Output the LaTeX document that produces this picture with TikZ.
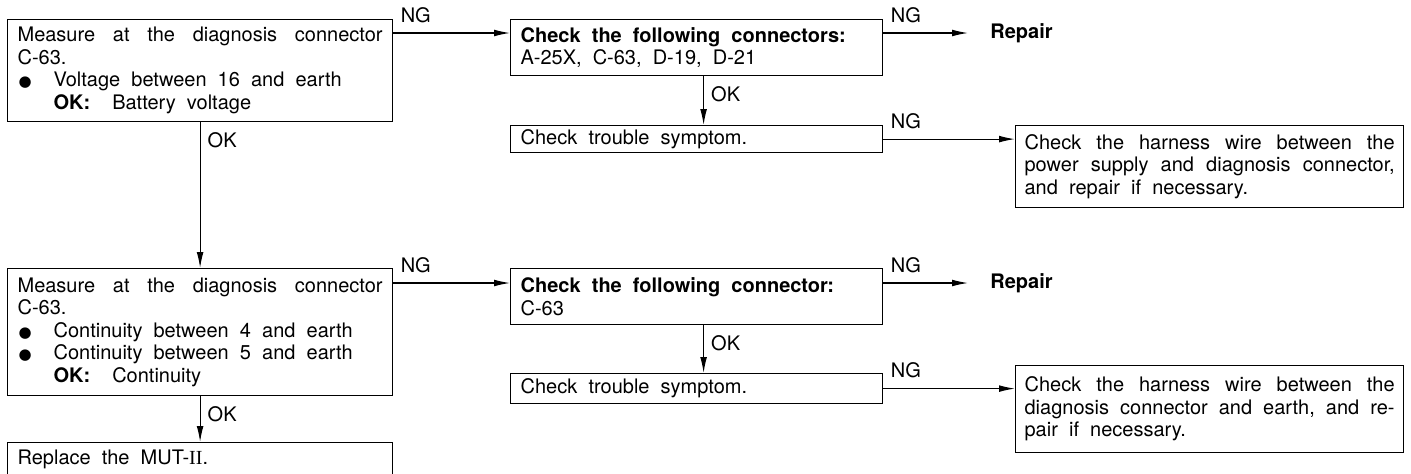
\documentclass[tikz,border=0pt]{standalone}
\usepackage{fontspec}
\setmainfont{TeX Gyre Heros}[WordSpace=2.0]
\newfontfamily\romanfont{Liberation Serif}
\newfontfamily\dotfont{DejaVu Sans}
\usetikzlibrary{positioning,arrows.meta}
\newcommand{\bul}{\makebox[18pt][l]{\hspace{0.5pt}{\dotfont\fontsize{7.5}{9}\selectfont ●}}}
\newcommand{\okline}[1]{\hspace*{18pt}\textbf{OK:}\hspace{1.1em}#1}

\begin{document}
\begin{tikzpicture}[x=0.5pt, y=-0.5pt,
    font=\fontsize{10}{11.25}\selectfont,
    box/.style={draw, line width=0.6pt, anchor=north west, align=justify, inner xsep=5pt, inner ysep=1pt},
    wide/.style={text width=182.5pt},
    mid/.style={text width=176pt},
    far/.style={text width=185pt, inner xsep=4.5pt},
    flow/.style={-{Latex[length=8pt,width=3.4pt]}, line width=0.6pt},
    ng/.style={anchor=south west, inner sep=0pt, xshift=3.5pt, yshift=5pt},
    ok/.style={anchor=north west, inner sep=0pt, xshift=3.5pt, yshift=-5pt},
    result/.style={anchor=west, inner sep=0pt, font=\fontsize{10}{11.25}\selectfont\bfseries}]
  \useasboundingbox (0,0) rectangle (1411,473);

  % first measurement
  \node[box, wide, minimum height=51pt] (volt) at (7,19) {Measure at the diagnosis connector\linebreak C-63.\par
    \bul Voltage between 16 and earth\par
    \okline{Battery voltage}};
  \node[box, mid, minimum height=28pt] (conn1) at (510,19) {\textbf{Check the following connectors:}\\
    A-25X, C-63, D-19, D-21};
  \node[box, mid, minimum height=13.5pt] (sym1) at (510,125) {Check trouble symptom.};
  \node[box, far, minimum height=41pt] (harn1) at (1015,125) {Check the harness wire between the\linebreak
    power supply and diagnosis connector,\linebreak and repair if necessary.};
  \node[result] (rep1) at (990,33) {Repair};

  % second measurement
  \node[box, wide, minimum height=63.5pt] (cont) at (7,268) {Measure at the diagnosis connector\linebreak C-63.\par
    \bul Continuity between 4 and earth\par
    \bul Continuity between 5 and earth\par
    \okline{Continuity}};
  \node[box, mid, minimum height=28pt] (conn2) at (510,268) {\textbf{Check the following connector:}\\ C-63};
  \node[box, mid, minimum height=15pt] (sym2) at (510,373) {Check trouble symptom.};
  \node[box, far, minimum height=43.5pt] (harn2) at (1015,365) {Check the harness wire between the\linebreak
    diagnosis connector and earth, and re-\linebreak pair if necessary.};
  \node[result] (rep2) at (990,283) {Repair};
  \node[box, wide, minimum height=17pt] (mut) at (7,442) {Replace the MUT-{\romanfont II}.};

  \draw[flow] ([yshift=-7pt]volt.north east) -- ([yshift=-7pt]conn1.north west) node[pos=0, ng] {NG};
  \draw[flow] ([yshift=-7pt]conn1.north east) -- ([xshift=-11pt]rep1.west) node[pos=0, ng] {NG};
  \draw[flow] ([xshift=3.5pt]conn1.south) -- ([xshift=3.5pt]sym1.north) node[pos=0, ok] {OK};
  \draw[flow] (sym1.east) -- (sym1.east -| harn1.west) node[pos=0, ng] {NG};
  \draw[flow] (volt.south) -- (cont.north) node[pos=0, ok] {OK};

  \draw[flow] ([yshift=-7.5pt]cont.north east) -- ([yshift=-7.5pt]conn2.north west) node[pos=0, ng] {NG};
  \draw[flow] ([yshift=-7.5pt]conn2.north east) -- ([xshift=-11pt]rep2.west) node[pos=0, ng] {NG};
  \draw[flow] ([xshift=3.5pt]conn2.south) -- ([xshift=3.5pt]sym2.north) node[pos=0, ok] {OK};
  \draw[flow] (sym2.east) -- (sym2.east -| harn2.west) node[pos=0, ng] {NG};
  \draw[flow] (cont.south) -- (mut.north) node[pos=0, ok] {OK};
\end{tikzpicture}
\end{document}
